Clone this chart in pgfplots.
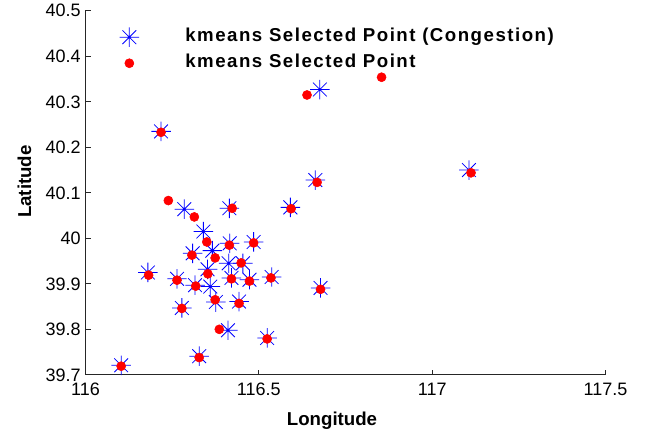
\documentclass[border=0pt]{standalone}
\usepackage{fontspec}
\setmainfont{Liberation Sans}
\usepackage{pgfplots}
\pgfplotsset{compat=1.18}
\pgfdeclareplotmark{mstar}{%
  \pgfpathmoveto{\pgfqpoint{-\pgfplotmarksize}{0pt}}\pgfpathlineto{\pgfqpoint{\pgfplotmarksize}{0pt}}%
  \pgfpathmoveto{\pgfqpoint{0pt}{-\pgfplotmarksize}}\pgfpathlineto{\pgfqpoint{0pt}{\pgfplotmarksize}}%
  \pgfpathmoveto{\pgfqpoint{-0.7071\pgfplotmarksize}{-0.7071\pgfplotmarksize}}\pgfpathlineto{\pgfqpoint{0.7071\pgfplotmarksize}{0.7071\pgfplotmarksize}}%
  \pgfpathmoveto{\pgfqpoint{-0.7071\pgfplotmarksize}{0.7071\pgfplotmarksize}}\pgfpathlineto{\pgfqpoint{0.7071\pgfplotmarksize}{-0.7071\pgfplotmarksize}}%
  \pgfusepathqstroke}
\begin{document}
\begin{tikzpicture}
\useasboundingbox (-64.1pt,-42.2pt) rectangle (419.6pt,281.1pt);
\begin{axis}[
  scale only axis, width=390pt, height=273pt,
  xmin=116, xmax=117.5, ymin=39.7, ymax=40.5,
  axis x line*=bottom, axis y line*=left,
  axis line style={black!85, line width=0.6pt},
  xtick={116,116.5,117,117.5},
  ytick={39.7,39.8,39.9,40,40.1,40.2,40.3,40.4,40.5},
  scaled ticks=false,
  tick align=inside, major tick length=4pt,
  tick style={black!85, line width=0.6pt},
  /pgf/number format/assume math mode=true,
  /pgf/number format/fixed, /pgf/number format/precision=1,
  ticklabel style={font=\fontsize{13.5}{16}\selectfont},
  xticklabel style={yshift=-2.5pt},
  xlabel={Longitude}, ylabel={Latitude},
  label style={font=\bfseries\fontsize{14}{17}\selectfont},
  xlabel style={at={(axis description cs:0.474,-0.127)}, anchor=center},
  ylabel style={at={(axis description cs:-0.1173,0.531)}, anchor=center},
  legend style={draw=none, fill=none, at={(axis description cs:0.030,0.955)}, anchor=north west,
    font=\bfseries\fontsize{14}{17}\selectfont\addfontfeature{LetterSpace=8},
    inner sep=0pt, row sep=5.75pt, nodes={inner sep=0pt, text height=10pt, text depth=3pt}},
  legend cell align=left,
  legend image code/.code={\path[draw=none,fill=none] (-21pt,0pt) -- (42pt,0pt); \draw[#1] plot coordinates {(0pt,0pt)};},
]
\addplot[only marks, mark=mstar, mark size=7.3pt, draw=blue, mark options={line width=0.6pt}] coordinates {
(116.103,39.721) (116.285,40.064) (116.415,40.066) (116.591,40.068) (116.340,40.015)
(116.416,39.989) (116.485,39.992) (116.309,39.967) (116.366,39.973) (116.413,39.945)
(116.454,39.945) (116.352,39.932) (116.180,39.925) (116.264,39.911) (116.421,39.913)
(116.473,39.909) (116.537,39.915) (116.678,39.891) (116.316,39.897) (116.360,39.894)
(116.376,39.860) (116.443,39.861) (116.278,39.847) (116.411,39.798) (116.524,39.781)
(116.328,39.741) (116.218,40.235) (116.663,40.128) (117.106,40.150) (116.676,40.327)
};
\addplot[only marks, mark=*, mark size=3.4pt, color=red, fill=red] coordinates {
(116.103,39.719) (116.239,40.083) (116.314,40.047) (116.423,40.066) (116.593,40.065)
(116.350,39.992) (116.415,39.985) (116.485,39.990) (116.307,39.963) (116.374,39.957)
(116.449,39.946) (116.182,39.919) (116.353,39.922) (116.264,39.908) (116.421,39.911)
(116.473,39.906) (116.535,39.913) (116.678,39.888) (116.318,39.895) (116.374,39.865)
(116.443,39.857) (116.278,39.846) (116.386,39.800) (116.524,39.779) (116.328,39.738)
(116.218,40.233) (116.668,40.123) (117.112,40.144) (116.639,40.315) (116.854,40.354)
};
\legend{kmeans Selected Point (Congestion), kmeans Selected Point}
\end{axis}
\end{tikzpicture}
\end{document}
